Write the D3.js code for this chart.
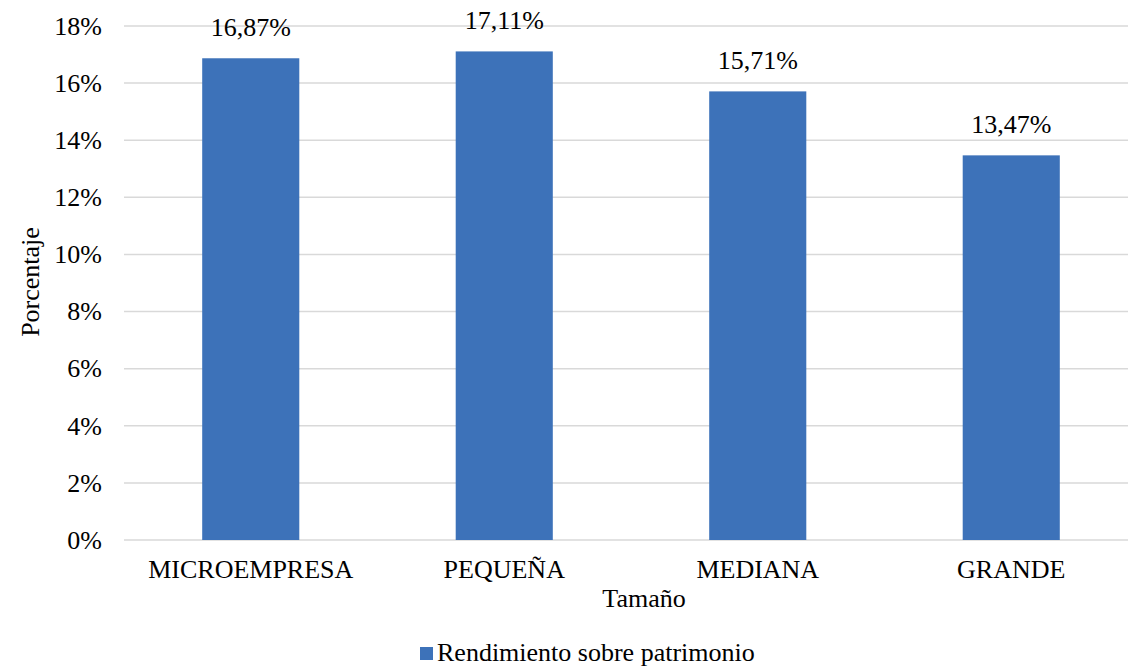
<!DOCTYPE html>
<html><head><meta charset="utf-8">
<script src="https://cdn.jsdelivr.net/npm/d3@7"></script>
<style>body{margin:0;background:#fff;}svg{display:block;font-family:"Liberation Serif","Times New Roman",serif;}</style>
</head><body><svg id="c" width="1128" height="667"></svg>
<script>
const categories = ["MICROEMPRESA","PEQUEÑA","MEDIANA","GRANDE"];
const values = [16.87, 17.11, 15.71, 13.47];
const valueLabels = ["16,87%","17,11%","15,71%","13,47%"];
const yTicks = [0,2,4,6,8,10,12,14,16,18];
const seriesName = "Rendimiento sobre patrimonio";
const xTitle = "Tamaño";
const yTitle = "Porcentaje";

(function(){
const svg = d3.select("#c");
const pLeft = 124, pRight = 1138, pTop = 26, pBottom = 540;
const x = d3.scaleBand().domain(categories).range([pLeft, pRight]).paddingInner(0.617).paddingOuter(0.3085);
const y = d3.scaleLinear().domain([0, 18]).range([pBottom, pTop]);
const blue = "#3d72b9";
const fs = 26;

// gridlines
svg.append("g").selectAll("line").data(yTicks).join("line")
  .attr("x1", pLeft).attr("x2", 1128)
  .attr("y1", d => y(d)).attr("y2", d => y(d))
  .attr("stroke", "#d9d9d9").attr("stroke-width", 1.5);

// y axis labels
const yAxis = d3.axisLeft(y).tickValues(yTicks).tickFormat(d => d + "%").tickSize(0).tickPadding(0);
const gy = svg.append("g").attr("transform", `translate(${pLeft - 22},0)`).call(yAxis);
gy.select(".domain").remove();
gy.selectAll("text").attr("font-size", fs).attr("fill", "#000").attr("font-family", "Liberation Serif").attr("dy", "0.32em");

// bars
svg.append("g").selectAll("rect").data(values).join("rect")
  .attr("x", (d, i) => x(categories[i]))
  .attr("width", x.bandwidth())
  .attr("y", d => y(d))
  .attr("height", d => y(0) - y(d))
  .attr("fill", blue);

// value labels
svg.append("g").selectAll("text").data(values).join("text")
  .attr("x", (d, i) => x(categories[i]) + x.bandwidth() / 2)
  .attr("y", d => y(d) - 22.5)
  .attr("text-anchor", "middle").attr("font-size", fs).attr("fill", "#000")
  .text((d, i) => valueLabels[i]);

// x axis labels
const xAxis = d3.axisBottom(x).tickSize(0).tickPadding(0);
const gx = svg.append("g").attr("transform", `translate(0,${pBottom})`).call(xAxis);
gx.select(".domain").remove();
gx.selectAll("text").attr("font-size", fs).attr("fill", "#000").attr("font-family", "Liberation Serif")
  .attr("dy", null).attr("y", 38);

// axis titles
svg.append("text").attr("x", 644).attr("y", 607).attr("text-anchor", "middle")
  .attr("font-size", fs).attr("fill", "#000").text(xTitle);
svg.append("text").attr("transform", "translate(39,282) rotate(-90)").attr("text-anchor", "middle")
  .attr("font-size", fs).attr("fill", "#000").text(yTitle);

// legend
const lg = svg.append("g");
lg.append("rect").attr("x", 420).attr("y", 647).attr("width", 13).attr("height", 13).attr("fill", blue);
lg.append("text").attr("x", 437).attr("y", 661).attr("font-size", fs).attr("fill", "#000").text(seriesName);
})();
</script></body></html>
